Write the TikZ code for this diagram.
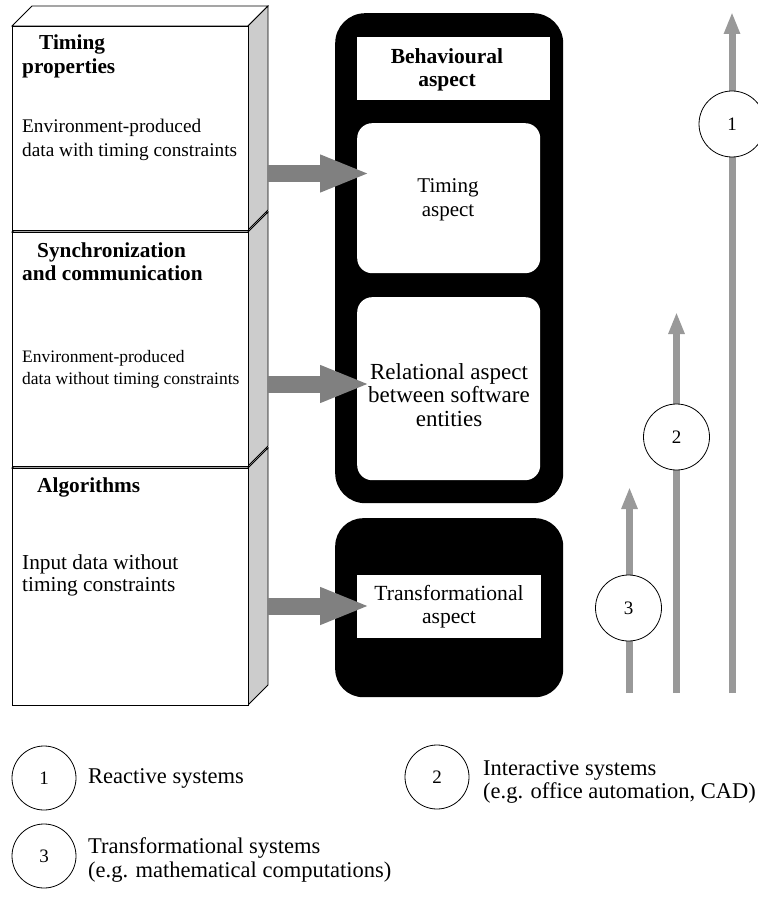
\documentclass[tikz,border=0pt]{standalone}
\usepackage{fontspec}
\setmainfont{Liberation Serif}
\usetikzlibrary{arrows.meta}
\definecolor{sidegray}{HTML}{CCCCCC}
\definecolor{arrgray}{HTML}{808080}
\definecolor{vgray}{HTML}{999999}
\newcommand\mycuboid[3]{%
  \draw[face] (12,#2) -- (32,#2-20) -- (268,#2-20) -- (248,#2) -- cycle;
  \draw[side] (248,#2) -- (268,#2-20) -- (268,#3-20) -- (248,#3) -- cycle;
  \node[face, anchor=north west, minimum width=236pt, minimum height={#3-#2}, inner sep=0pt] (#1) at (12,#2) {};
}
\begin{document}
\begin{tikzpicture}[x=1pt,y=-1pt,
  face/.style={draw=black, line width=0.8pt, fill=white},
  side/.style={draw=black, line width=0.8pt, fill=sidegray},
  heading/.style={anchor=west, inner sep=0pt, align=left, font=\fontsize{21.3}{23.5}\selectfont\bfseries},
  body/.style={anchor=west, inner sep=0pt, align=left, font=\fontsize{19.3}{23.5}\selectfont},
  ptext/.style={inner sep=0pt, align=center, font=\fontsize{20.5}{23.5}\selectfont},
  pbold/.style={inner sep=0pt, align=center, font=\fontsize{21.5}{23.5}\selectfont\bfseries},
  legend/.style={anchor=west, inner sep=0pt, align=left, font=\fontsize{22.5}{23.5}\selectfont},
  blockarrow/.style={draw=arrgray, line width=17pt, line cap=butt, -{Triangle[width=34pt,length=50pt]}, fill=arrgray},
  varrow/.style={draw=vgray, line width=7pt, line cap=butt, -{Triangle[width=15pt,length=22pt]}, fill=vgray},
  num/.style={circle, draw=black, line width=0.8pt, fill=white, minimum size=66pt, inner sep=0pt, font=\fontsize{19}{22}\selectfont},
  blackpanel/.style={fill=black, anchor=north west, inner sep=0pt},
  whitebox/.style={fill=white, anchor=north west, inner sep=0pt}
]
\path[use as bounding box] (0,0) rectangle (757,901);

% left stacked cuboids
\mycuboid{box3}{468}{705}
\mycuboid{box2}{232}{466}
\mycuboid{box1}{26}{230}

\node[heading] (h1) at (22,56.5) {\hspace*{17pt}Timing\\properties};
\node[body] (t1) at (22,140) {Environment-produced\\data with timing constraints};
\node[heading] (h2) at (22,261.5) {\hspace*{15pt}Synchronization\\and communication};
\node[body, font=\fontsize{17.5}{22}\selectfont] (t2) at (22,369) {Environment-produced\\data without timing constraints};
\node[heading] (h3) at (37,487) {Algorithms};
\node[body, font=\fontsize{21.3}{22}\selectfont] (t3) at (22,575) {Input data without\\timing constraints};

% black panels
\node[blackpanel, rounded corners=30pt, minimum width=228pt, minimum height=490pt] (panel1) at (335,13) {};
\node[whitebox, minimum width=193pt, minimum height=63pt] (beh) at (357,37) {};
\node[pbold] (behtext) at (447,70) {Behavioural\\aspect};
\node[whitebox, rounded corners=15pt, minimum width=183pt, minimum height=150pt] (timing) at (357,123) {};
\node[ptext, font=\fontsize{21}{24}\selectfont] (timtext) at (448,200) {Timing\\aspect};
\node[whitebox, rounded corners=15pt, minimum width=183pt, minimum height=183pt] (rel) at (357,297) {};
\node[ptext, font=\fontsize{23}{23.5}\selectfont] (reltext) at (449,395) {Relational aspect\\between software\\entities};

\node[blackpanel, rounded corners=28pt, minimum width=228pt, minimum height=179pt] (panel2) at (335,518) {};
\node[whitebox, minimum width=184pt, minimum height=63pt] (trans) at (357,575) {};
\node[ptext, font=\fontsize{21.6}{23.5}\selectfont] (transtext) at (449,606.5) {Transformational\\aspect};

% block arrows
\coordinate (a1s) at (268,173.5);
\coordinate (a1e) at (370,173.5);
\coordinate (a2s) at (268,384);
\coordinate (a2e) at (370,384);
\coordinate (a3s) at (268,606);
\coordinate (a3e) at (370,606);
\draw[blockarrow] (a1s) -- (a1e);
\draw[blockarrow] (a2s) -- (a2e);
\draw[blockarrow] (a3s) -- (a3e);

% vertical arrows
\coordinate (v1s) at (732,693);
\coordinate (v1e) at (732,12);
\coordinate (v2s) at (676.5,693);
\coordinate (v2e) at (676.5,312);
\coordinate (v3s) at (629.5,693);
\coordinate (v3e) at (629.5,487);
\draw[varrow] (v1s) -- (v1e);
\draw[varrow] (v2s) -- (v2e);
\draw[varrow] (v3s) -- (v3e);
\node[num] (n1) at (732,124) {1};
\node[num] (n2) at (676.5,437) {2};
\node[num] (n3) at (628.5,608) {3};

% legend
\node[num, minimum size=64pt] (l1) at (44,778) {1};
\node[legend] (l1t) at (88,778) {Reactive systems};
\node[num, minimum size=64pt] (l2) at (437,777) {2};
\node[legend] (l2t) at (483,782) {Interactive systems\\(e.g. office automation, CAD)};
\node[num, minimum size=64pt] (l3) at (44,856) {3};
\node[legend] (l3t) at (88,860) {Transformational systems\\(e.g. mathematical computations)};
\end{tikzpicture}
\end{document}
